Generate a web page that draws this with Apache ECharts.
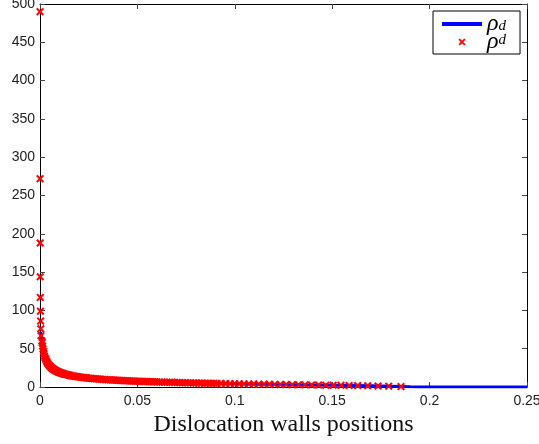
<!DOCTYPE html>
<html>
<head>
<meta charset="utf-8">
<script src="https://cdn.jsdelivr.net/npm/echarts@6/dist/echarts.min.js"></script>
<style>
html,body{margin:0;padding:0;background:#fff;}
#chart{width:539px;height:444px;}
</style>
</head>
<body>
<div id="chart"></div>
<script>
// Wall positions (x) and discrete density values (rho^d, red crosses)
var wallPositions = [
  0.00001, 0.00003, 0.00006, 0.0001, 0.00016, 0.00023, 0.00031, 0.0004, 0.0005,
  0.00097, 0.00114, 0.00133, 0.00154, 0.00177, 0.00202, 0.0023, 0.0026, 0.0029,
  0.0033, 0.0037, 0.0041, 0.0046,
  0.0051, 0.0055, 0.0059, 0.0063, 0.0067, 0.0071, 0.0075, 0.0079, 0.0083, 0.0087, 0.0091, 0.0095, 0.0099,
  0.0104, 0.0109, 0.0114, 0.0119, 0.0124, 0.013, 0.0136, 0.0142, 0.0148, 0.0154, 0.016, 0.0167, 0.0174, 0.0181, 0.0188, 0.0195,
  0.0203, 0.0211, 0.0219, 0.0227, 0.0235, 0.0243, 0.0251, 0.026, 0.0269, 0.0278, 0.0287, 0.0296, 0.0305, 0.0314, 0.0323, 0.0332, 0.0341, 0.035,
  0.036, 0.037, 0.038, 0.039, 0.040, 0.041, 0.042, 0.043, 0.044, 0.045, 0.046, 0.047, 0.048, 0.049, 0.050,
  0.051, 0.052, 0.053, 0.054, 0.055, 0.056, 0.057, 0.058, 0.059, 0.060,
  0.0613, 0.0626, 0.0639, 0.0652, 0.0665, 0.0678, 0.0691, 0.0704, 0.0717, 0.0731, 0.0745, 0.0759,
  0.0773, 0.0787, 0.0801, 0.0816, 0.0831, 0.0846, 0.0861, 0.0876, 0.0892, 0.0908,
  0.093, 0.0953, 0.0976, 0.0999, 0.1023, 0.1047, 0.1072, 0.1097, 0.1123, 0.115, 0.1177, 0.1205,
  0.1234, 0.1264, 0.1295, 0.1327, 0.136, 0.1394, 0.143, 0.1467, 0.1505, 0.1545,
  0.1587, 0.1631, 0.1682, 0.1735, 0.179, 0.1853
];
var rhoD = [
  490, 272, 188, 144, 117, 99, 86, 76, 67,
  60, 57.9, 53.6, 49.8, 46.4, 43.4, 40.6, 38.2, 36.1,
  33.8, 31.9, 30.3, 28.6,
  27.1, 26.06, 25.14, 24.3, 23.54, 22.84, 22.2, 21.6, 21.06, 20.54, 20.06, 19.6, 19.19,
  18.7, 18.24, 17.81, 17.41, 17.03, 16.6, 16.2, 15.83, 15.48, 15.15, 14.84, 14.5, 14.17, 13.87, 13.58, 13.31,
  13.01, 12.73, 12.47, 12.22, 11.98, 11.75, 11.53, 11.3, 11.08, 10.87, 10.67, 10.48, 10.29, 10.11, 9.94, 9.78, 9.62, 9.47,
  9.31, 9.15, 9.0, 8.85, 8.71, 8.58, 8.45, 8.32, 8.2, 8.08, 7.96, 7.85, 7.74, 7.63, 7.53,
  7.43, 7.33, 7.24, 7.14, 7.05, 6.96, 6.87, 6.79, 6.71, 6.62,
  6.52, 6.42, 6.32, 6.23, 6.13, 6.04, 5.95, 5.87, 5.78, 5.69, 5.6, 5.52,
  5.43, 5.35, 5.27, 5.19, 5.1, 5.02, 4.94, 4.87, 4.78, 4.70,
  4.60, 4.49, 4.38, 4.27, 4.17, 4.06, 3.95, 3.85, 3.74, 3.63, 3.53, 3.42,
  3.31, 3.19, 3.08, 2.96, 2.84, 2.71, 2.58, 2.44, 2.31, 2.16,
  2.0, 1.83, 1.62, 1.39, 1.12, 0.5
];
// Continuous density (rho_d, blue line)
var lineX = [0.0003, 0.0006, 0.001, 0.0015, 0.002, 0.003, 0.004, 0.005, 0.007, 0.01,
  0.015, 0.02, 0.03, 0.04, 0.05, 0.06, 0.07, 0.08, 0.09, 0.1, 0.11, 0.12, 0.13,
  0.14, 0.15, 0.16, 0.17, 0.18, 0.185, 0.19, 0.195, 0.25];
var lineY = [72, 66, 60, 50, 43.5, 35.5, 30.7, 27.4, 23, 19.1,
  15.4, 13.1, 10.3, 8.8, 7.5, 6.6, 5.9, 5.3, 4.7, 4.2, 3.8, 3.4, 3.05,
  2.7, 2.3, 1.95, 1.55, 1.05, 0.75, 0.3, 0, 0];
var xTicks = [0, 0.05, 0.1, 0.15, 0.2, 0.25];
var yTicks = [0, 50, 100, 150, 200, 250, 300, 350, 400, 450, 500];

var crossPath = 'path://M0,1.8L1.8,0L5,3.2L8.2,0L10,1.8L6.8,5L10,8.2L8.2,10L5,6.8L1.8,10L0,8.2L3.2,5Z';

var chart = echarts.init(document.getElementById('chart'), null, {renderer: 'canvas'});
var labelFont = {fontFamily: 'Liberation Sans, Arial, sans-serif', fontSize: 14, color: '#222'};
function xAx(pos, showLabel) {
  return {
    type: 'value', position: pos, min: xTicks[0], max: xTicks[xTicks.length - 1],
    interval: xTicks[1] - xTicks[0],
    axisLine: {show: true, onZero: false, lineStyle: {color: '#000', width: 1}},
    axisTick: {show: true, inside: true, length: 5, lineStyle: {color: '#444'}},
    axisLabel: Object.assign({show: showLabel, margin: 7}, labelFont),
    splitLine: {show: false},
    name: showLabel ? 'Dislocation walls positions' : '',
    nameLocation: 'middle', nameGap: 22,
    nameTextStyle: {fontFamily: 'Liberation Serif, Times New Roman, serif', fontSize: 24, color: '#111'}
  };
}
function yAx(pos, showLabel) {
  return {
    type: 'value', position: pos, min: yTicks[0], max: yTicks[yTicks.length - 1],
    interval: yTicks[1] - yTicks[0],
    axisLine: {show: true, onZero: false, lineStyle: {color: '#000', width: 1}},
    axisTick: {show: true, inside: true, length: 5, lineStyle: {color: '#444'}},
    axisLabel: Object.assign({show: showLabel, margin: 5}, labelFont),
    splitLine: {show: false}
  };
}
var option = {
  animation: false,
  backgroundColor: '#fff',
  grid: {left: 40, right: 12, top: 4, bottom: 57, containLabel: false, outerBoundsMode: 'none'},
  xAxis: [xAx('bottom', true), xAx('top', false)],
  yAxis: [yAx('left', true), yAx('right', false)],
  legend: {
    orient: 'vertical', left: 433, top: 11,
    padding: [1, 14, 0, 9], itemGap: -6,
    itemWidth: 40, itemHeight: 7,
    borderColor: '#000', borderWidth: 1, backgroundColor: '#fff',
    data: [
      {name: 'rho', icon: 'path://M0,0H40V4H0Z'},
      {name: 'rhod'}
    ],
    formatter: function (name) {
      return name === 'rho' ? '{r|ρ}{sb|d}' : '{r|ρ}{sp|d}';
    },
    textStyle: {
      rich: {
        r: {fontFamily: 'Liberation Serif, serif', fontStyle: 'italic', fontSize: 24, color: '#000', lineHeight: 19},
        sb: {fontFamily: 'Liberation Serif, serif', fontStyle: 'italic', fontSize: 15, color: '#000', lineHeight: 14, verticalAlign: 'bottom', padding: [5, 0, 0, 0]},
        sp: {fontFamily: 'Liberation Serif, serif', fontStyle: 'italic', fontSize: 15, color: '#000', lineHeight: 14, verticalAlign: 'top', padding: [0, 0, 5, 0]}
      }
    }
  },
  series: [
    {
      name: 'rho', type: 'line', xAxisIndex: 0, yAxisIndex: 0,
      data: lineX.map(function (x, i) { return [x, lineY[i]]; }),
      symbol: 'none', showSymbol: false, smooth: false, z: 2,
      lineStyle: {color: '#0000ff', width: 3}, itemStyle: {color: '#0000ff'}
    },
    {
      name: 'rhod', type: 'scatter', xAxisIndex: 0, yAxisIndex: 0,
      data: wallPositions.map(function (x, i) { return [x, rhoD[i]]; }),
      symbol: crossPath, symbolSize: 8, z: 3,
      itemStyle: {color: '#ff0000', opacity: 1}
    }
  ]
};
chart.setOption(option);
</script>
</body>
</html>
